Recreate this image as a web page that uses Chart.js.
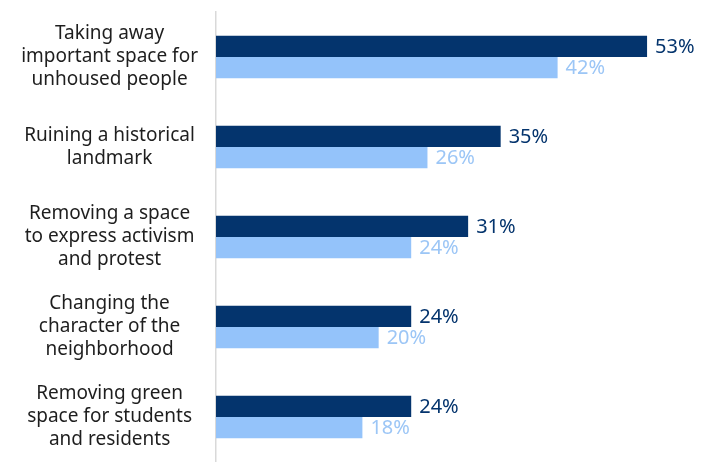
<!doctype html>
<html>
<head>
<meta charset="utf-8">
<title>Concerns chart</title>
<script src="https://cdn.jsdelivr.net/npm/chart.js"></script>
<style>
  html, body { margin: 0; padding: 0; background: #fff; }
  #wrap { width: 715px; height: 462px; }
</style>
</head>
<body>
<div id="wrap"><canvas id="chart" width="715" height="462"></canvas></div>
<script>
// categories, one array of lines per bar group
const categories = [
  ['Taking away', 'important space for', 'unhoused people'],
  ['Ruining a historical', 'landmark'],
  ['Removing a space', 'to express activism', 'and protest'],
  ['Changing the', 'character of the', 'neighborhood'],
  ['Removing green', 'space for students', 'and residents']
];
const seriesDark = [53, 35, 31, 24, 24];
const seriesLight = [42, 26, 24, 20, 18];

const darkColor = '#04346D';
const lightColor = '#94C3FA';
const fontFamily = '"Noto Sans", sans-serif';

// draws the "53%" style labels after each bar end
const barValueLabels = {
  id: 'barValueLabels',
  afterDatasetsDraw(chart) {
    const ctx = chart.ctx;
    ctx.save();
    ctx.font = '20px ' + fontFamily;
    ctx.textAlign = 'left';
    ctx.textBaseline = 'middle';
    chart.data.datasets.forEach((ds, di) => {
      const meta = chart.getDatasetMeta(di);
      ctx.fillStyle = ds.labelColor;
      meta.data.forEach((bar, i) => {
        ctx.fillText(ds.data[i] + '%', bar.x + 8, bar.y + 1);
      });
    });
    ctx.restore();
  }
};

new Chart(document.getElementById('chart'), {
  type: 'bar',
  data: {
    labels: categories,
    datasets: [
      { data: seriesDark, backgroundColor: darkColor, labelColor: darkColor },
      { data: seriesLight, backgroundColor: lightColor, labelColor: '#9CC6F6' }
    ]
  },
  options: {
    indexAxis: 'y',
    responsive: false,
    animation: false,
    layout: { padding: { top: 12, right: 11, bottom: 0, left: 0 } },
    datasets: { bar: { categoryPercentage: 0.47, barPercentage: 1 } },
    plugins: { legend: { display: false }, tooltip: { enabled: false } },
    scales: {
      x: { display: false, min: 0, max: 60 },
      y: {
        afterFit(scale) {
          scale.width = 216;
          scale.paddingTop = 0;
          scale.paddingBottom = 0;
        },
        grid: { display: false, drawTicks: false },
        border: { display: true, color: '#D9D9D9', width: 1.5 },
        ticks: {
          crossAlign: 'center',
          padding: 18,
          color: '#1E1E1E',
          font: { family: fontFamily, size: 19, lineHeight: 1.21 }
        }
      }
    }
  },
  plugins: [barValueLabels]
});
</script>
</body>
</html>
